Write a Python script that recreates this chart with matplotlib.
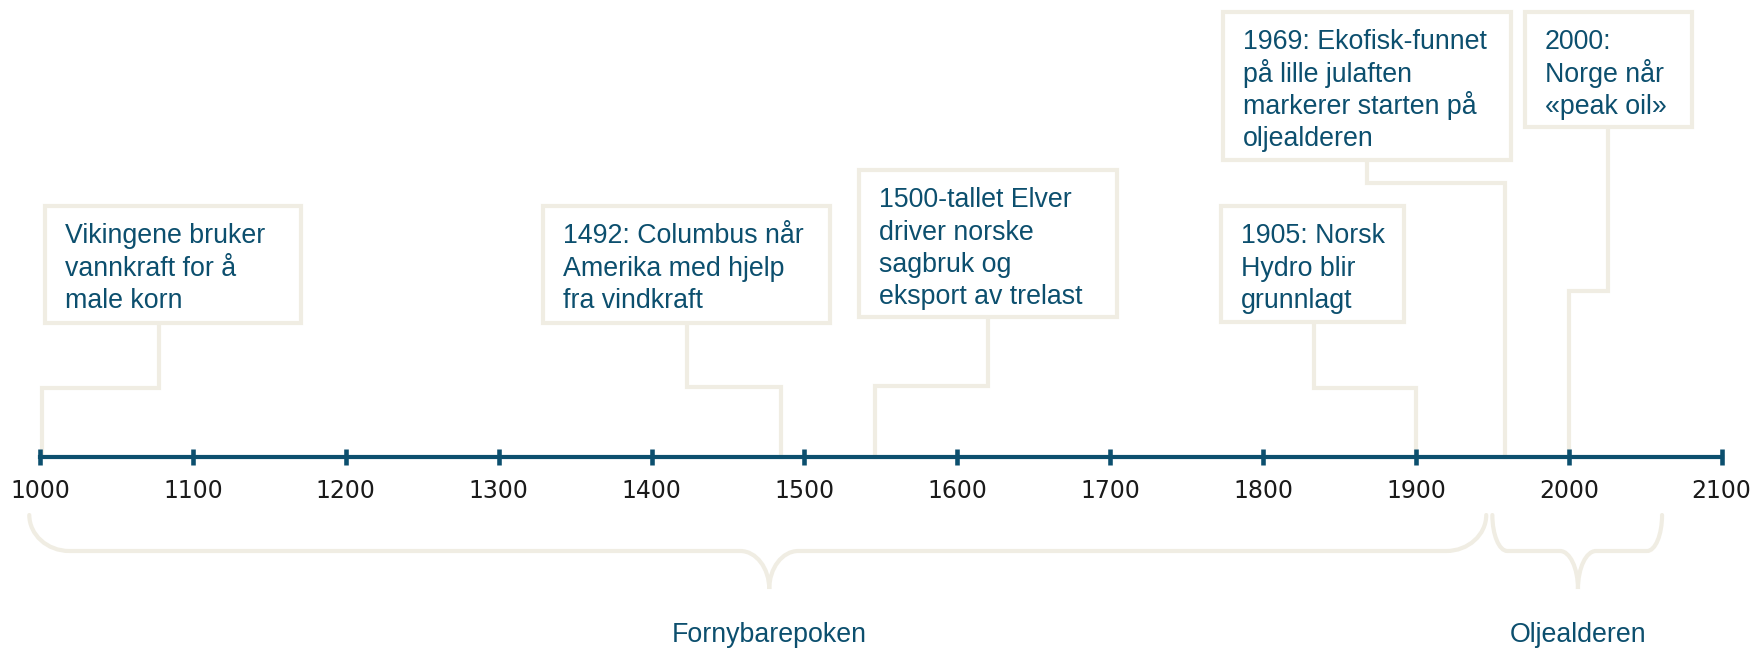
import matplotlib.pyplot as plt
from matplotlib.patches import Rectangle, PathPatch
from matplotlib.path import Path

# --- data ---
tick_years = [1000, 1100, 1200, 1300, 1400, 1500, 1600, 1700, 1800, 1900, 2000, 2100]

event_texts = [
    "Vikingene bruker\nvannkraft for å\nmale korn",
    "1492: Columbus når\nAmerika med hjelp\nfra vindkraft",
    "1500-tallet Elver\ndriver norske\nsagbruk og\neksport av trelast",
    "1905: Norsk\nHydro blir\ngrunnlagt",
    "1969: Ekofisk-funnet\npå lille julaften\nmarkerer starten på\noljealderen",
    "2000:\nNorge når\n«peak oil»",
]
# where each connector meets the timeline
event_years = [1001, 1485, 1546, 1900, 1958, 2000]

period_names = ["Fornybarepoken", "Oljealderen"]
period_start = [993, 1950]
period_end = [1946, 2061]
period_tip = [1477, 2006]

NAVY = "#0c4f6e"
BEIGE = "#f0ede3"

PX = 1.5288  # pixels per year on the timeline
AXIS_Y = 457
LINE_H = 32.5


def yr(px):
    return 1000 + (px - 40) / PX


# box layout in pixels: left, top, right, bottom, stem x, elbow y
boxes = [
    (45, 206, 301, 323, 159, 388),
    (543, 206, 830, 323, 687, 387),
    (859, 170, 1117, 317, 988, 386),
    (1221, 206, 1404, 322, 1314, 388),
    (1223, 12, 1511, 160, 1367, 183),
    (1525, 12, 1692, 127, 1608, 291),
]

fig = plt.figure(figsize=(17.56, 6.48), dpi=100)
ax = fig.add_axes([0, 0, 1, 1])
ax.set_xlim(yr(0), yr(1756))
ax.set_ylim(648, 0)
ax.axis('off')

# connectors and boxes
for text, year, (l, t, r, b, sx, ey) in zip(event_texts, event_years, boxes):
    ax.plot([yr(sx), yr(sx), year, year], [b, ey, ey, AXIS_Y],
            color=BEIGE, lw=3, solid_joinstyle='miter', zorder=1)
    ax.add_patch(Rectangle((yr(l), t), yr(r) - yr(l), b - t, facecolor='white',
                           edgecolor=BEIGE, lw=3, zorder=2))
    # one text per line so the line pitch stays even
    for i, line in enumerate(text.split('\n')):
        ax.text(yr(l + 20), t + 37 + i * LINE_H, line, ha='left', va='baseline',
                fontsize=19.3, family='Liberation Sans', color=NAVY, zorder=3)

# timeline
ax.plot([tick_years[0], tick_years[-1]], [AXIS_Y, AXIS_Y], color=NAVY, lw=3, zorder=4)
ax.plot(tick_years, [AXIS_Y] * len(tick_years), ls='none', marker='|',
        markersize=12, mew=3.3, color=NAVY, zorder=4)
for t in tick_years:
    ax.text(t, 491, str(t), ha='center', va='center', fontsize=17,
            family='DejaVu Sans', color='#1a1a1a')


# curly braces under the timeline
def brace(x0, x1, xt, rx_end, rx_tip, y0=515, ym=551, yt=589):
    k = 0.55
    verts = [
        (x0, y0), (x0, y0 + k * (ym - y0)), (x0 + rx_end * (1 - k), ym), (x0 + rx_end, ym),
        (xt - rx_tip, ym),
        (xt - rx_tip * (1 - k), ym), (xt, yt - k * (yt - ym)), (xt, yt),
        (xt, yt - k * (yt - ym)), (xt + rx_tip * (1 - k), ym), (xt + rx_tip, ym),
        (x1 - rx_end, ym),
        (x1 - rx_end * (1 - k), ym), (x1, y0 + k * (ym - y0)), (x1, y0),
    ]
    codes = [Path.MOVETO, Path.CURVE4, Path.CURVE4, Path.CURVE4,
             Path.LINETO,
             Path.CURVE4, Path.CURVE4, Path.CURVE4,
             Path.CURVE4, Path.CURVE4, Path.CURVE4,
             Path.LINETO,
             Path.CURVE4, Path.CURVE4, Path.CURVE4]
    ax.add_patch(PathPatch(Path(verts, codes), facecolor='none', edgecolor=BEIGE,
                           lw=3, capstyle='round'))


brace(period_start[0], period_end[0], period_tip[0], 40 / PX, 29 / PX)
brace(period_start[1], period_end[1], period_tip[1], 15 / PX, 18 / PX)

for name, tip in zip(period_names, period_tip):
    ax.text(tip, 642, name, ha='center', va='baseline', fontsize=19.3,
            family='Liberation Sans', color=NAVY)

fig.savefig('out.png', dpi=100)
